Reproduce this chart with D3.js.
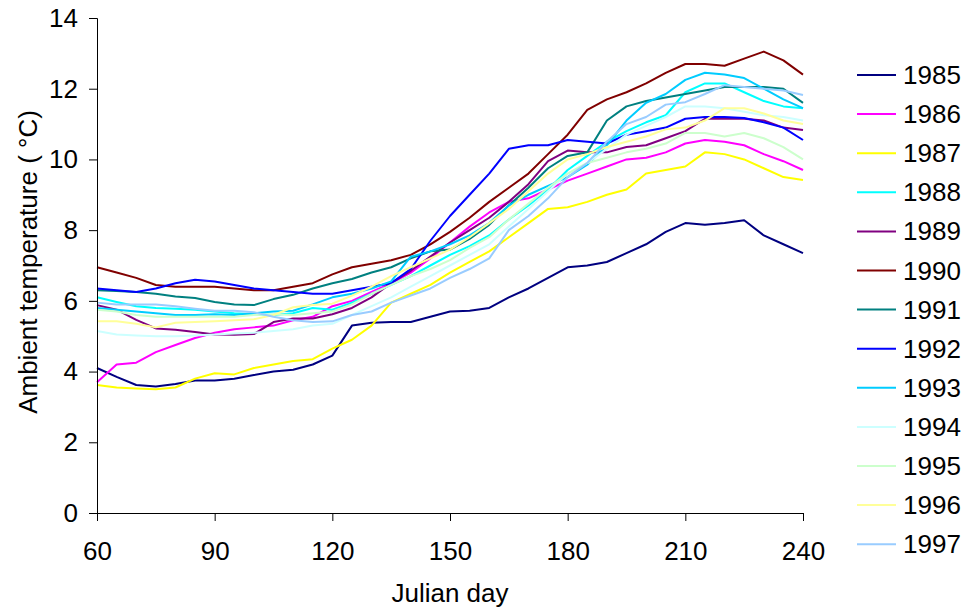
<!DOCTYPE html>
<html>
<head>
<meta charset="utf-8">
<script src="https://cdn.jsdelivr.net/npm/d3@7/dist/d3.min.js"></script>
<style>
  html, body { margin: 0; padding: 0; background: #fff; }
  svg { display: block; font-family: "Liberation Sans", Arial, sans-serif; }
</style>
</head>
<body>
<svg id="chart" width="965" height="611"></svg>
<script>
// ---- Data ----
const days = [60,65,70,75,80,85,90,95,100,105,110,115,120,125,130,135,140,145,150,155,160,165,170,175,180,185,190,195,200,205,210,215,220,225,230,235,240];

const years = ["1985","1986","1987","1988","1989","1990","1991","1992","1993","1994","1995","1996","1997"];

const t1985 = [4.1,3.85,3.62,3.58,3.65,3.75,3.75,3.8,3.9,4.0,4.05,4.2,4.45,5.3,5.38,5.4,5.4,5.55,5.7,5.72,5.8,6.1,6.35,6.65,6.95,7.0,7.1,7.35,7.6,7.95,8.2,8.15,8.2,8.28,7.85,7.6,7.35];
const t1986 = [3.7,4.2,4.25,4.55,4.75,4.95,5.1,5.2,5.25,5.3,5.45,5.55,5.85,6.0,6.25,6.5,6.8,7.2,7.65,8.1,8.5,8.8,8.9,9.15,9.4,9.6,9.8,10.0,10.05,10.2,10.45,10.55,10.5,10.4,10.15,9.95,9.7];
const t1987 = [3.62,3.55,3.52,3.5,3.55,3.8,3.95,3.92,4.1,4.2,4.3,4.35,4.65,4.9,5.3,5.95,6.2,6.45,6.8,7.1,7.4,7.8,8.2,8.6,8.65,8.8,9.0,9.15,9.6,9.7,9.8,10.2,10.15,10.0,9.75,9.5,9.42];
const t1988 = [6.1,5.97,5.85,5.8,5.78,5.75,5.7,5.65,5.62,5.6,5.65,5.8,5.75,5.95,6.2,6.45,6.7,7.0,7.3,7.55,7.85,8.3,8.7,9.15,9.7,10.1,10.5,10.8,11.05,11.25,11.9,12.15,12.15,11.9,11.65,11.5,11.45];
const t1989 = [5.88,5.75,5.46,5.22,5.18,5.12,5.05,5.04,5.06,5.4,5.5,5.5,5.62,5.8,6.1,6.5,6.85,7.25,7.65,8.0,8.35,8.8,9.3,9.95,10.25,10.2,10.2,10.35,10.4,10.6,10.8,11.15,11.15,11.15,11.1,10.9,10.83];
const t1990 = [6.95,6.8,6.65,6.45,6.4,6.4,6.4,6.35,6.3,6.3,6.4,6.5,6.75,6.95,7.05,7.15,7.3,7.6,7.95,8.35,8.8,9.2,9.6,10.15,10.7,11.4,11.7,11.9,12.15,12.45,12.7,12.7,12.65,12.85,13.05,12.8,12.4];
const t1991 = [6.3,6.28,6.25,6.2,6.12,6.08,5.97,5.9,5.88,6.05,6.17,6.35,6.5,6.62,6.8,6.95,7.2,7.4,7.45,7.75,8.15,8.7,9.2,9.75,10.1,10.2,11.1,11.5,11.65,11.75,11.85,11.95,12.05,12.05,12.05,12.0,11.6];
const t1992 = [6.35,6.3,6.25,6.35,6.5,6.6,6.55,6.45,6.35,6.3,6.25,6.2,6.2,6.3,6.4,6.5,6.9,7.7,8.4,9.0,9.6,10.3,10.4,10.4,10.55,10.5,10.45,10.7,10.8,10.9,11.15,11.2,11.2,11.17,11.05,10.9,10.55];
const t1993 = [5.8,5.75,5.7,5.65,5.6,5.6,5.62,5.6,5.65,5.7,5.72,5.9,6.1,6.2,6.35,6.55,7.25,7.4,7.6,7.85,8.2,8.7,9.0,9.25,9.5,9.85,10.4,11.1,11.6,11.85,12.25,12.45,12.4,12.3,12.0,11.7,11.45];
const t1994 = [5.15,5.05,5.02,5.0,5.0,5.02,5.05,5.08,5.1,5.15,5.2,5.3,5.35,5.6,5.85,6.1,6.4,6.7,7.0,7.3,7.6,8.1,8.6,9.1,9.6,9.9,10.3,10.7,10.95,11.2,11.5,11.5,11.45,11.35,11.25,11.2,11.1];
const t1995 = [5.75,5.7,5.6,5.55,5.55,5.55,5.55,5.55,5.6,5.62,5.6,5.65,5.7,5.9,6.2,6.45,6.7,6.9,7.15,7.5,7.8,8.3,8.75,9.2,9.6,9.9,10.05,10.2,10.3,10.45,10.75,10.75,10.65,10.75,10.6,10.35,10.0];
const t1996 = [5.42,5.42,5.35,5.25,5.38,5.4,5.42,5.45,5.48,5.6,5.82,5.88,5.92,6.15,6.4,6.7,6.95,7.2,7.45,7.8,8.2,8.6,9.1,9.6,10.0,10.15,10.35,10.5,10.65,10.85,10.9,11.1,11.45,11.45,11.3,11.1,11.0];
const t1997 = [5.95,5.9,5.9,5.9,5.85,5.78,5.72,5.72,5.68,5.55,5.45,5.4,5.42,5.6,5.7,5.95,6.15,6.35,6.65,6.9,7.2,8.0,8.4,8.9,9.5,9.9,10.5,11.0,11.2,11.55,11.62,11.85,12.1,12.05,12.0,11.95,11.82];

const seriesValues = [t1985,t1986,t1987,t1988,t1989,t1990,t1991,t1992,t1993,t1994,t1995,t1996,t1997];
const colors = ["#000080","#FF00FF","#FFFF00","#00FFFF","#800080","#800000","#008080","#0000FF","#00CCFF","#CCFFFF","#CCFFCC","#FFFF99","#99CCFF"];

const xTicks = [60,90,120,150,180,210,240];
const yTicks = [0,2,4,6,8,10,12,14];
const xTitle = "Julian day";
const yTitle = "Ambient temperature ( \u00B0C)";

(function draw() {
  const svg = d3.select("#chart");
  const pLeft = 97, pRight = 803, pTop = 18, pBottom = 513;
  const fs = 26;

  const x = d3.scaleLinear().domain([60,240]).range([pLeft,pRight]);
  const y = d3.scaleLinear().domain([0,14]).range([pBottom,pTop]);

  const line = d3.line().x((d,i) => x(days[i])).y(d => y(d));
  const g = svg.append("g");
  seriesValues.forEach((vals, k) => {
    g.append("path")
      .datum(vals)
      .attr("d", line)
      .attr("fill","none")
      .attr("stroke", colors[k])
      .attr("stroke-width", 2)
      .attr("stroke-linejoin","round");
  });

  const xAxis = d3.axisBottom(x).tickValues(xTicks).tickSize(8).tickPadding(21).tickFormat(d3.format("d"));
  const yAxis = d3.axisLeft(y).tickValues(yTicks).tickSize(8).tickPadding(11).tickFormat(d3.format("d"));

  const gx = svg.append("g").attr("transform",`translate(0,${pBottom})`).call(xAxis);
  const gy = svg.append("g").attr("transform",`translate(${pLeft},0)`).call(yAxis);
  [gx,gy].forEach(a => {
    a.select(".domain").attr("stroke","#000").attr("stroke-width",1);
    a.selectAll(".tick line").attr("stroke","#000");
    a.selectAll("text").attr("font-size",fs).attr("fill","#000").attr("font-family",'"Liberation Sans", Arial, sans-serif');
  });

  svg.append("text")
    .attr("x", 450).attr("y", 602)
    .attr("text-anchor","middle")
    .attr("font-size",fs)
    .text(xTitle);

  svg.append("text")
    .attr("transform","translate(28,262) rotate(-90)")
    .attr("text-anchor","middle")
    .attr("dominant-baseline","central")
    .attr("font-size",fs)
    .text(yTitle);

  const lg = svg.append("g");
  years.forEach((yr,i) => {
    const yy = 75 + i*39.1;
    lg.append("line").attr("x1",857).attr("x2",896).attr("y1",yy).attr("y2",yy)
      .attr("stroke",colors[i]).attr("stroke-width",2);
    lg.append("text").attr("x",903).attr("y",yy).attr("dominant-baseline","central")
      .attr("font-size",fs).text(yr);
  });
})();
</script>
</body>
</html>
